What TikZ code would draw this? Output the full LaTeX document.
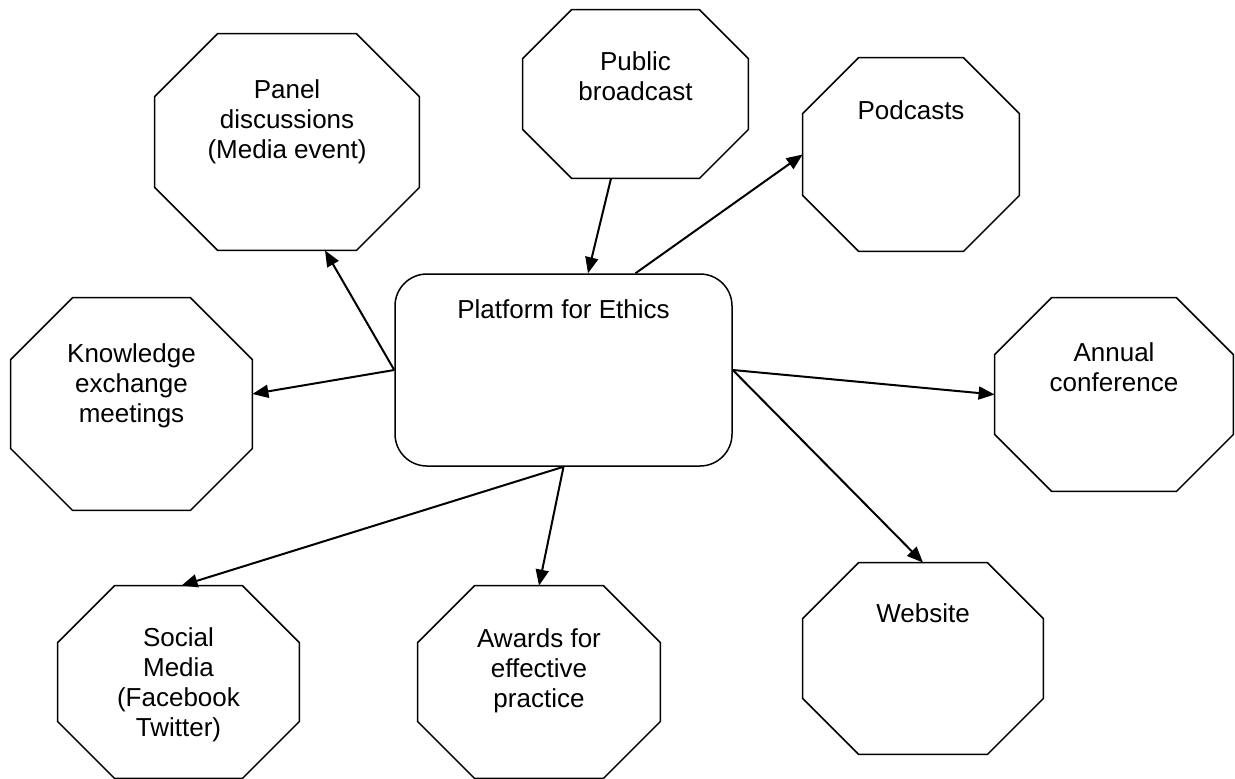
\documentclass[tikz,border=0pt]{standalone}
\usepackage{fontspec}
\setmainfont{Liberation Sans}
\usetikzlibrary{arrows.meta,positioning}
\begin{document}
\begin{tikzpicture}[
        x=0.5pt, y=-0.5pt,
        every node/.style={font=\fontsize{13}{15}\selectfont},
        hub/.style={draw, line width=0.75pt, rounded corners=16pt, inner sep=0pt,
            minimum width=168.5pt, minimum height=96pt},
        octbox/.style={inner sep=0pt},
        octline/.style={line width=0.75pt},
        txt/.style={align=center, inner sep=0pt},
        arr/.style={-{Triangle[length=8pt,width=6.5pt]}, line width=1pt}
    ]
    \useasboundingbox (0,0) rectangle (1235,778);
    % centre
    \node[hub] (hub) at (563.5,370) {};
    \node[txt, below=13pt of hub.north] (hub-t) {Platform for Ethics};
    % outer boxes
    \node[octbox, minimum width=132pt, minimum height=108pt] (panel) at (287,142) {};
    \node[octbox, minimum width=112.5pt, minimum height=84pt] (public) at (635.5,94) {};
    \node[octbox, minimum width=108pt, minimum height=96.5pt] (podcasts) at (911,154.5) {};
    \node[octbox, minimum width=120.5pt, minimum height=106pt] (knowledge) at (131.5,404) {};
    \node[octbox, minimum width=119pt, minimum height=96.5pt] (annual) at (1114,394.5) {};
    \node[octbox, minimum width=120pt, minimum height=95.5pt] (website) at (923,658.5) {};
    \node[octbox, minimum width=121pt, minimum height=96pt] (awards) at (539,682) {};
    \node[octbox, minimum width=120.5pt, minimum height=96pt] (social) at (178.5,682) {};
    \foreach \o/\c in {panel/63,public/49,podcasts/56,knowledge/62,annual/57,website/56,awards/57,social/57}
        \draw[octline] ([xshift=\c*0.5pt]\o.north west) -- ([xshift=-\c*0.5pt]\o.north east)
            -- ([yshift=-\c*0.5pt]\o.north east) -- ([yshift=\c*0.5pt]\o.south east)
            -- ([xshift=-\c*0.5pt]\o.south east) -- ([xshift=\c*0.5pt]\o.south west)
            -- ([yshift=\c*0.5pt]\o.south west) -- ([yshift=-\c*0.5pt]\o.north west) -- cycle;
    % labels
    \node[txt, below=23pt of panel.north] (panel-t) {Panel\\discussions\\(Media event)};
    \node[txt, below=20.7pt of public.north] (public-t) {Public\\broadcast};
    \node[txt, below=21.3pt of podcasts.north] (podcasts-t) {Podcasts};
    \node[txt, below=23pt of knowledge.north] (knowledge-t) {Knowledge\\exchange\\meetings};
    \node[txt, below=22.2pt of annual.north] (annual-t) {Annual\\conference};
    \node[txt, below=20.5pt of website.north] (website-t) {Website};
    \node[txt, below=21.3pt of awards.north] (awards-t) {Awards for\\effective\\practice};
    \node[txt, below=21pt of social.north] (social-t) {Social\\Media\\(Facebook\\Twitter)};
    % arrows
    \draw[arr] ([xshift=-12.25pt]public.south) -- ([xshift=12.25pt]hub.north);
    \draw[arr] ([xshift=36pt]hub.north) -- (podcasts.west);
    \draw[arr] (hub.west) -- ([xshift=19pt]panel.south);
    \draw[arr] (hub.west) -- ([yshift=5pt]knowledge.east);
    \draw[arr] (hub.east) -- (annual.west);
    \draw[arr] (hub.east) -- (website.north);
    \draw[arr] (hub.south) -- (awards.north);
    \draw[arr] (hub.south) -- ([xshift=1.5pt]social.north);
\end{tikzpicture}
\end{document}
